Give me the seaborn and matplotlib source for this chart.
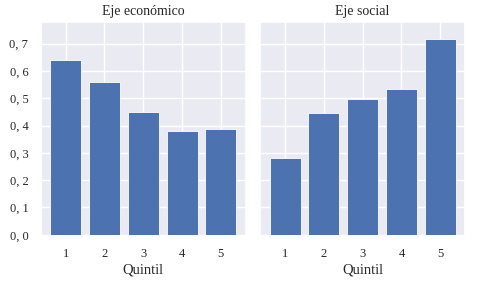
import matplotlib
matplotlib.use("Agg")
import matplotlib.pyplot as plt
import seaborn as sns
import pandas as pd
from matplotlib.ticker import FuncFormatter, MultipleLocator

quintiles = ["1", "2", "3", "4", "5"]
eje_economico = [0.641, 0.559, 0.449, 0.380, 0.388]
eje_social = [0.281, 0.447, 0.497, 0.533, 0.716]
titles = ["Eje económico", "Eje social"]

sns.set_theme(style="darkgrid")
plt.rcParams["font.family"] = ["Liberation Serif", "DejaVu Serif"]

fig, axes = plt.subplots(1, 2, figsize=(4.8, 2.88), dpi=100, sharey=True)
fig.subplots_adjust(left=0.085, right=0.969, top=0.924, bottom=0.181, wspace=0.071)

for ax, vals, title in zip(axes, [eje_economico, eje_social], titles):
    df = pd.DataFrame({"Quintil": quintiles, "valor": vals})
    sns.barplot(data=df, x="Quintil", y="valor", ax=ax, color="#4c72b0",
                saturation=1, width=0.8, edgecolor="white", linewidth=0.6)
    ax.set_title(title, fontsize=10, pad=5)
    ax.set_xlabel("Quintil", fontsize=10.5, labelpad=2)
    ax.set_ylabel("")
    ax.set_xlim(-0.64, 4.64)
    ax.xaxis.grid(True)
    ax.set_axisbelow(True)
    ax.tick_params(labelsize=9, pad=3)

axes[0].set_ylim(-0.004, 0.78)
axes[0].yaxis.set_major_locator(MultipleLocator(0.1))
axes[0].yaxis.set_major_formatter(FuncFormatter(lambda v, p: f"{v:.1f}".replace(".", ", ")))
axes[1].tick_params(axis="y", left=False, labelleft=False)

fig.savefig("out.png", dpi=100)
